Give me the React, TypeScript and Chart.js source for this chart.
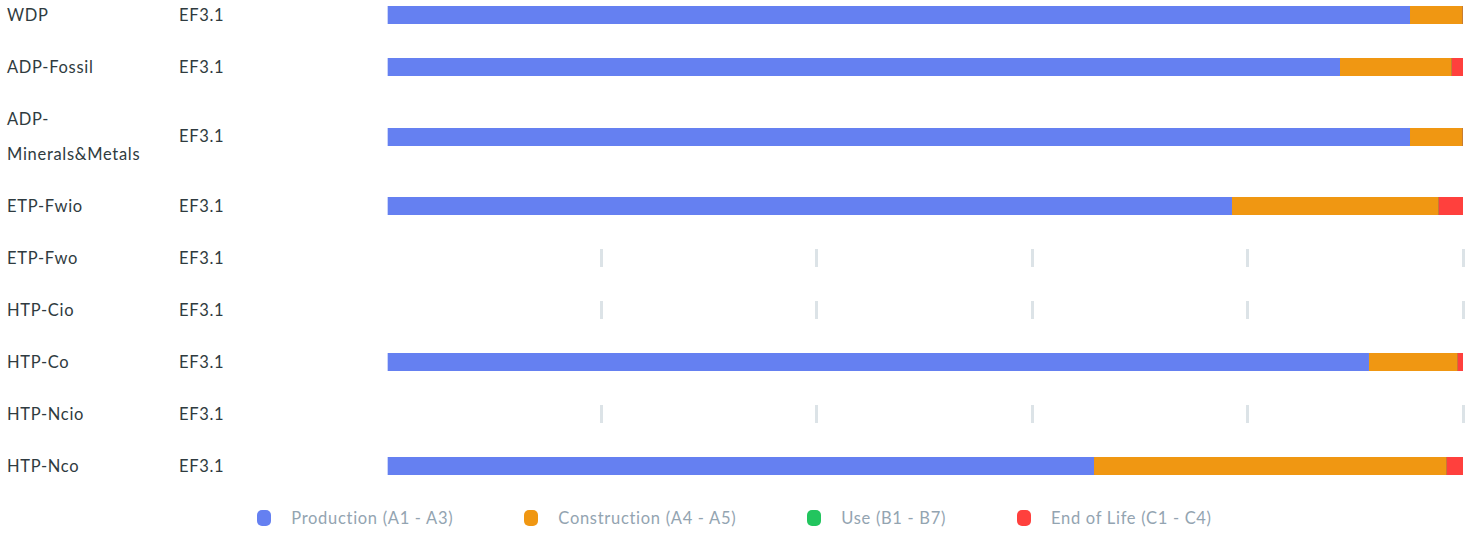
import React, { useEffect, useRef } from "react";
import { Chart, registerables } from "chart.js";

Chart.register(...registerables);

const categories = ["WDP", "ADP-Fossil", "ADP-\nMinerals&Metals", "ETP-Fwio", "ETP-Fwo", "HTP-Cio", "HTP-Co", "HTP-Ncio", "HTP-Nco"];
const methods = ["EF3.1", "EF3.1", "EF3.1", "EF3.1", "EF3.1", "EF3.1", "EF3.1", "EF3.1", "EF3.1"];
const production = [95.08, 88.58, 95.08, 78.55, null, null, 91.27, null, 65.74];
const construction = [4.83, 10.31, 4.83, 19.13, null, null, 8.17, null, 32.68];
const useStage = [0, 0, 0, 0, null, null, 0, null, 0];
const endOfLife = [0.09, 1.11, 0.09, 2.32, null, null, 0.56, null, 1.58];
const seriesNames = ["Production (A1 - A3)", "Construction (A4 - A5)", "Use (B1 - B7)", "End of Life (C1 - C4)"];
const seriesColors = ["#6580f1", "#f09712", "#22c55e", "#ff403d"];
const axisTicks = [0, 20, 40, 60, 80, 100];

const rowHeights = [52, 52, 87, 52, 52, 52, 52, 52, 52];
const FONT = "Lato, 'Noto Sans', sans-serif";
const FS = 16.5;
const LS = "0.7px";

function RowChart({ index }: { index: number }) {
  const ref = useRef<HTMLCanvasElement | null>(null);
  useEffect(() => {
    if (!ref.current) return;
    const series = [production, construction, useStage, endOfLife];
    const empty = production[index] === null;
    const chart = new Chart(ref.current, {
      type: "bar",
      data: {
        labels: [categories[index]],
        datasets: series.map((s, k) => ({
          label: seriesNames[k],
          data: [s[index]],
          backgroundColor: seriesColors[k],
          borderColor: "#ffffff",
          borderWidth: k === 0 ? { left: 2, right: 0, top: 0, bottom: 0 } : 0,
          borderSkipped: false,
          barPercentage: 1,
          categoryPercentage: 1,
        })),
      },
      options: {
        indexAxis: "y",
        responsive: false,
        animation: false,
        maintainAspectRatio: false,
        layout: { padding: { left: 0, right: 3, top: 0, bottom: 0 } },
        plugins: { legend: { display: false }, tooltip: { enabled: false } },
        scales: {
          x: {
            stacked: true,
            min: 0,
            max: 100,
            afterBuildTicks: (axis: any) => {
              axis.ticks = axisTicks.map((v) => ({ value: v }));
            },
            display: empty,
            grid: {
              display: true,
              drawTicks: false,
              lineWidth: 3,
              color: (ctx: any) => (ctx.tick && ctx.tick.value === 0 ? "rgba(0,0,0,0)" : "#dce3e7"),
            },
            border: { display: false },
            ticks: { display: false },
          },
          y: { stacked: true, display: false },
        },
      },
    });
    return () => chart.destroy();
  }, [index]);
  return <canvas ref={ref} width={1080} height={18} style={{ width: 1080, height: 18, display: "block" }} />;
}

export default function App() {
  let top = -11;
  const rows = categories.map((c, i) => {
    const h = rowHeights[i];
    const t = top;
    top += h;
    const textStyle: React.CSSProperties = {
      position: "absolute",
      top: 0,
      height: h,
      display: "flex",
      alignItems: "center",
      whiteSpace: "pre-line",
      lineHeight: "35px",
      fontSize: FS,
      letterSpacing: LS,
      color: "#2f3b40",
      fontFamily: FONT,
    };
    return (
      <div key={i} style={{ position: "absolute", left: 0, top: t, width: 1469, height: h }}>
        <div style={{ ...textStyle, left: 7 }}>{c}</div>
        <div style={{ ...textStyle, left: 179 }}>{methods[i]}</div>
        <div style={{ position: "absolute", left: 386, top: (h - 18) / 2 }}>
          <RowChart index={i} />
        </div>
      </div>
    );
  });
  return (
    <div style={{ position: "absolute", left: 0, top: 0, width: 1469, height: 533, overflow: "hidden", background: "#fff" }}>
      {rows}
      <div
        style={{
          position: "absolute",
          left: 0,
          width: 1469,
          top: 505,
          height: 26,
          display: "flex",
          justifyContent: "center",
          alignItems: "center",
          gap: 71,
          fontFamily: FONT,
          fontSize: FS,
          letterSpacing: LS,
          color: "#93a4b1",
        }}
      >
        {seriesNames.map((n, k) => (
          <div key={k} style={{ display: "flex", alignItems: "center" }}>
            <span style={{ width: 14, height: 16, borderRadius: 5, background: seriesColors[k], marginRight: 20, display: "inline-block" }} />
            <span>{n}</span>
          </div>
        ))}
      </div>
    </div>
  );
}
